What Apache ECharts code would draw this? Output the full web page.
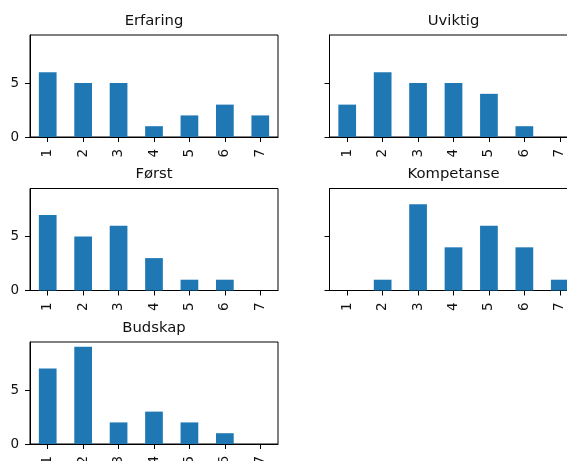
<!DOCTYPE html>
<html>
<head>
<meta charset="utf-8">
<script src="https://cdn.jsdelivr.net/npm/echarts@6/dist/echarts.min.js"></script>
<style>
  html, body { margin: 0; padding: 0; background: #fff; overflow: hidden; }
  #chart { width: 567px; height: 461px; }
</style>
</head>
<body>
<div id="chart"></div>
<script>
// Answer categories (scale 1–7)
const categories = ['1', '2', '3', '4', '5', '6', '7'];

// Counts per category for each question
const erfaring   = [6, 5, 5, 1, 2, 3, 2];
const uviktig    = [3, 6, 5, 5, 4, 1, 0];
const forst      = [7, 5, 6, 3, 1, 1, 0];
const kompetanse = [0, 1, 8, 4, 6, 4, 1];
const budskap    = [7, 9, 2, 3, 2, 1, 0];

const panelTitles = ['Erfaring', 'Uviktig', 'Først', 'Kompetanse', 'Budskap'];
const panelValues = [erfaring, uviktig, forst, kompetanse, budskap];

// Shared y range and tick values
const yMax = 9.45;
const yTicks = [0, 5];

// Layout of the 3x2 subplot grid (last cell empty); right column runs past the canvas edge
const colLeft = [30, 329.5];
const rowTop = [35, 188.5, 342];
const plotW = 248, plotH = 102;

const FONT = 'DejaVu Sans';
const BAR = '#1f77b4';
const TICK_FS = 13.5;

const grids = [], xAxes = [], yAxes = [], series = [], titles = [];

panelValues.forEach((vals, i) => {
  const col = i % 2, row = Math.floor(i / 2);
  const left = colLeft[col], top = rowTop[row];
  grids.push({
    left: left, top: top, width: plotW, height: plotH,
    outerBoundsMode: 'none', containLabel: false,
    show: true, borderColor: '#000', borderWidth: 1, backgroundColor: '#fff'
  });
  xAxes.push({
    gridIndex: i, type: 'category', data: categories,
    axisLine: { show: true, lineStyle: { color: '#000', width: 1 } },
    axisTick: { show: true, alignWithLabel: true, length: 5, lineStyle: { color: '#000' } },
    axisLabel: { rotate: 90, margin: 12, fontFamily: FONT, fontSize: TICK_FS, color: '#111', interval: 0 },
    splitLine: { show: false }
  });
  yAxes.push({
    gridIndex: i, type: 'value', min: 0, max: yMax,
    axisLine: { show: true, lineStyle: { color: '#000', width: 1 } },
    axisTick: { show: true, length: 5, customValues: yTicks, lineStyle: { color: '#000' } },
    axisLabel: { show: col === 0, customValues: yTicks, margin: 11, fontFamily: FONT, fontSize: TICK_FS, color: '#111' },
    splitLine: { show: false }
  });
  series.push({
    type: 'bar', xAxisIndex: i, yAxisIndex: i, data: vals,
    barWidth: '50%', itemStyle: { color: BAR }, silent: true, animation: false
  });
  titles.push({
    text: panelTitles[i],
    left: left + plotW / 2, top: top - 21.5, textAlign: 'center', padding: 0,
    textStyle: { fontFamily: FONT, fontSize: 14.8, fontWeight: 'normal', color: '#111' }
  });
});

const chart = echarts.init(document.getElementById('chart'), null, { renderer: 'canvas' });
chart.setOption({
  backgroundColor: '#fff',
  animation: false,
  title: titles,
  grid: grids,
  xAxis: xAxes,
  yAxis: yAxes,
  series: series
});
</script>
</body>
</html>
